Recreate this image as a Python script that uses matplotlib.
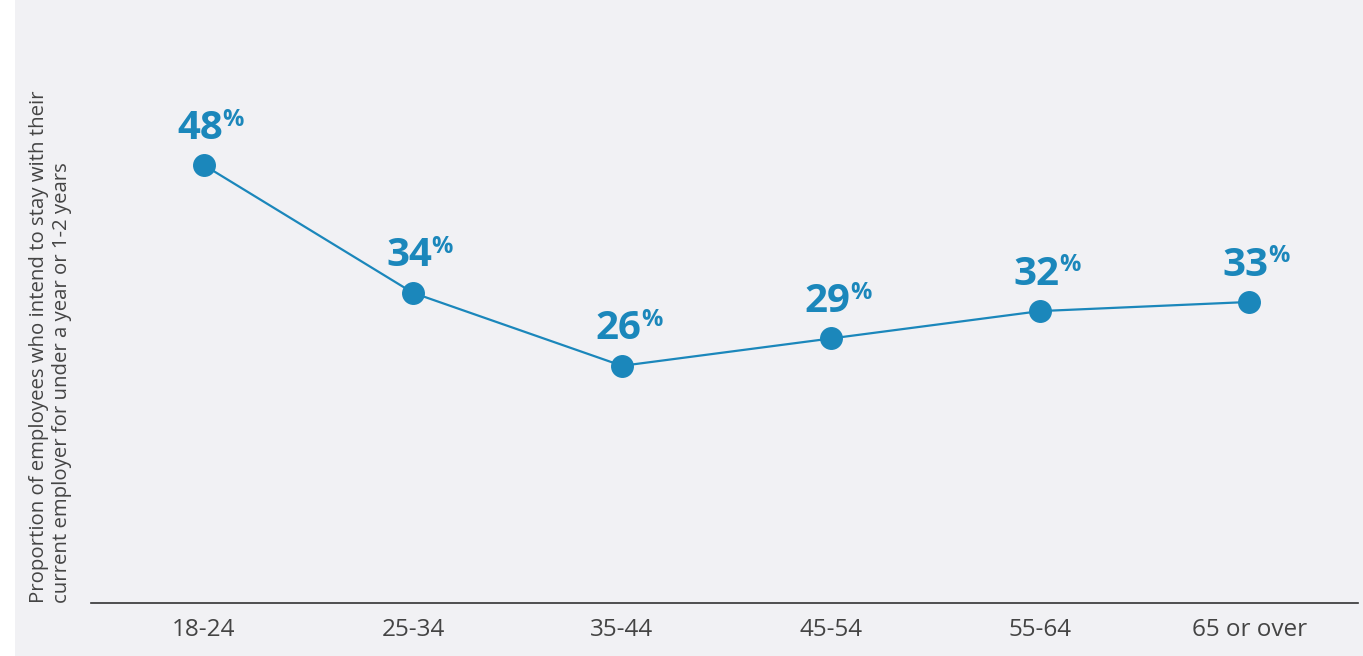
import matplotlib.pyplot as plt
from matplotlib.patches import Rectangle

plt.rcParams['font.family'] = ['Open Sans', 'DejaVu Sans']

# age groups and share (%) who intend to stay under a year or 1-2 years
ages = ['18-24', '25-34', '35-44', '45-54', '55-64', '65 or over']
values = [48, 34, 26, 29, 32, 33]

blue = '#1b87bb'
grey_bg = '#f1f1f4'

fig = plt.figure(figsize=(13.63, 6.56), dpi=100)
fig.patch.set_facecolor(grey_bg)
# white strip on the far left
fig.patches.append(Rectangle((0, 0), 15 / 1363, 1, transform=fig.transFigure,
                             facecolor='white', edgecolor='none', zorder=-5))

ax = fig.add_axes([91 / 1363, 53 / 656, 1267 / 1363, 603 / 656])
ax.set_facecolor('none')

x = list(range(len(ages)))
ax.plot(x, values, color=blue, lw=1.6, marker='o', markersize=15.5,
        markerfacecolor=blue, markeredgecolor=blue, zorder=3, clip_on=False)

# labels: big bold number + smaller percent sign
for xi, v in zip(x, values):
    ax.annotate(str(v), (xi, v), xytext=(14, 19), textcoords='offset points',
                ha='right', va='baseline', fontsize=29, fontweight='bold',
                color=blue)
    ax.annotate('%', (xi, v), xytext=(13.5, 28.5), textcoords='offset points',
                ha='left', va='baseline', fontsize=17, fontweight='bold',
                color=blue)

ax.set_xlim(-0.54, 5.52)
ax.set_ylim(0, 66.1)
ax.set_xticks(x)
ax.set_xticklabels(ages)
ax.set_yticks([])
ax.tick_params(axis='x', length=0, pad=10.5, labelsize=17.5, labelcolor='#444444')
for s in ['top', 'right', 'left']:
    ax.spines[s].set_visible(False)
ax.spines['bottom'].set_color('#333333')
ax.spines['bottom'].set_linewidth(1.2)

fig.text(51 / 1363, 53 / 656,
         'Proportion of employees who intend to stay with their\n'
         'current employer for under a year or 1-2 years',
         rotation=90, ha='center', va='bottom', multialignment='left',
         fontsize=14.7, color='#444444', linespacing=1.2)

fig.savefig('out.png', dpi=100, facecolor=fig.get_facecolor())
